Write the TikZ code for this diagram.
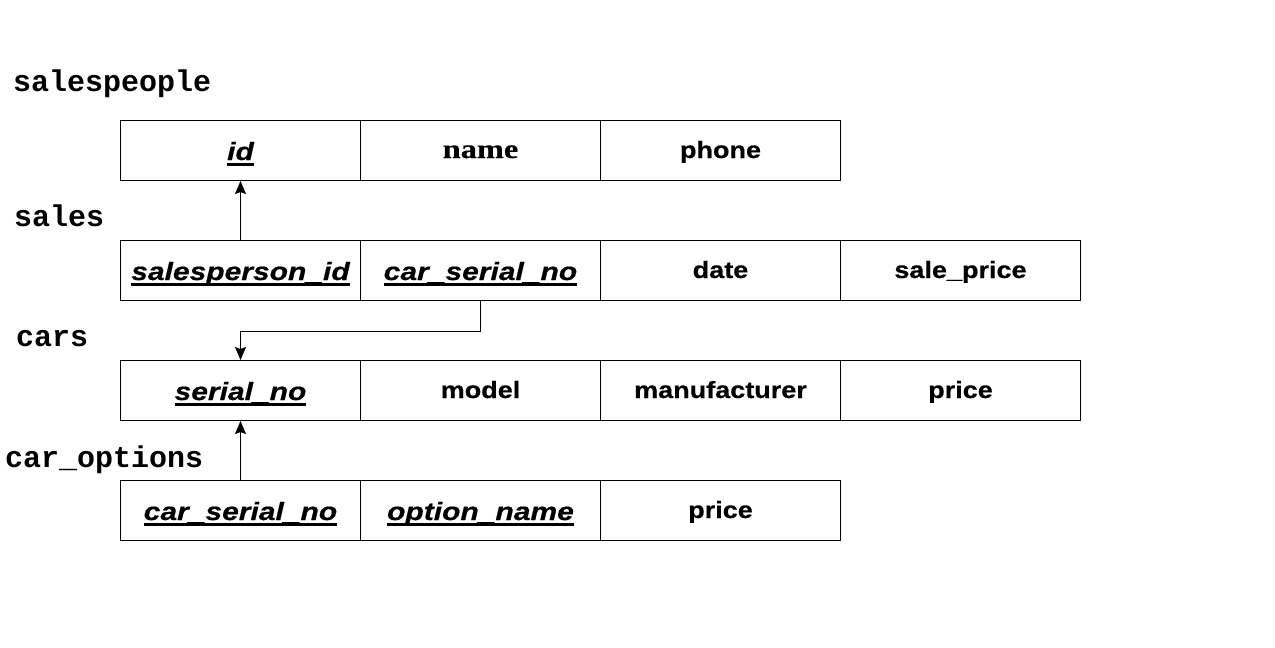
\documentclass[tikz,border=0pt]{standalone}
\usepackage{fontspec}
\setmainfont{Liberation Sans}
\setmonofont{Liberation Mono}
\newfontfamily\cellfont[FakeStretch=1.15,FakeBold=0.6]{Liberation Sans}
\newfontfamily\keyfont[FakeStretch=1.2,FakeBold=0.6]{Liberation Sans}
\newfontfamily\serifb[FakeStretch=1.2,FakeBold=0.4]{Liberation Serif}
\newcommand\ulk[1]{\setbox0\hbox{#1}\rlap{\vrule width\wd0 height -3pt depth 5.7pt}\box0}
\usetikzlibrary{arrows.meta}
\begin{document}
\begin{tikzpicture}[x=1pt,y=-1pt,
  cell/.style={draw=black, line width=1pt, minimum width=240pt, inner sep=0pt, anchor=north west, text height=37.5pt, text depth=22.5pt, font=\fontsize{23.5}{28}\cellfont\bfseries},
  keycell/.style={cell, text height=39.5pt, text depth=20.5pt, font=\fontsize{25}{30}\keyfont\bfseries\itshape},
  tname/.style={anchor=base west, inner sep=0pt, font=\fontsize{30}{34}\ttfamily\bfseries},
  fk/.style={line width=1pt, -{Stealth[length=13pt,width=11pt,inset=2pt]}}]
\useasboundingbox (0,0) rectangle (1275,648);
\fill[white] (0,0) rectangle (1275,648);
% labels
\node[tname] (Lsp) at (13,91) {salespeople};
\node[tname] (Lsa) at (14,226) {sales};
\node[tname] (Lca) at (16,346) {cars};
\node[tname] (Lco) at (5,467) {car\_options};
% salespeople
\node[keycell] (sp1) at (120,120) {\ulk{id}};
\node[cell, font=\fontsize{27}{32}\serifb\bfseries] (sp2) at (360,120) {name};
\node[cell] (sp3) at (600,120) {phone};
% sales
\node[keycell] (sa1) at (120,240) {\ulk{salesperson\_id}};
\node[keycell] (sa2) at (360,240) {\ulk{car\_serial\_no}};
\node[cell] (sa3) at (600,240) {date};
\node[cell] (sa4) at (840,240) {sale\_price};
% cars
\node[keycell] (ca1) at (120,360) {\ulk{serial\_no}};
\node[cell] (ca2) at (360,360) {model};
\node[cell] (ca3) at (600,360) {manufacturer};
\node[cell] (ca4) at (840,360) {price};
% car_options
\node[keycell] (co1) at (120,480) {\ulk{car\_serial\_no}};
\node[keycell] (co2) at (360,480) {\ulk{option\_name}};
\node[cell] (co3) at (600,480) {price};
% connectors
\draw[fk] (sa1.north) -- (sp1.south);
\draw[fk] (sa2.south) -- ++(0,30) -| (ca1.north);
\draw[fk] (co1.north) -- (ca1.south);
\end{tikzpicture}
\end{document}
